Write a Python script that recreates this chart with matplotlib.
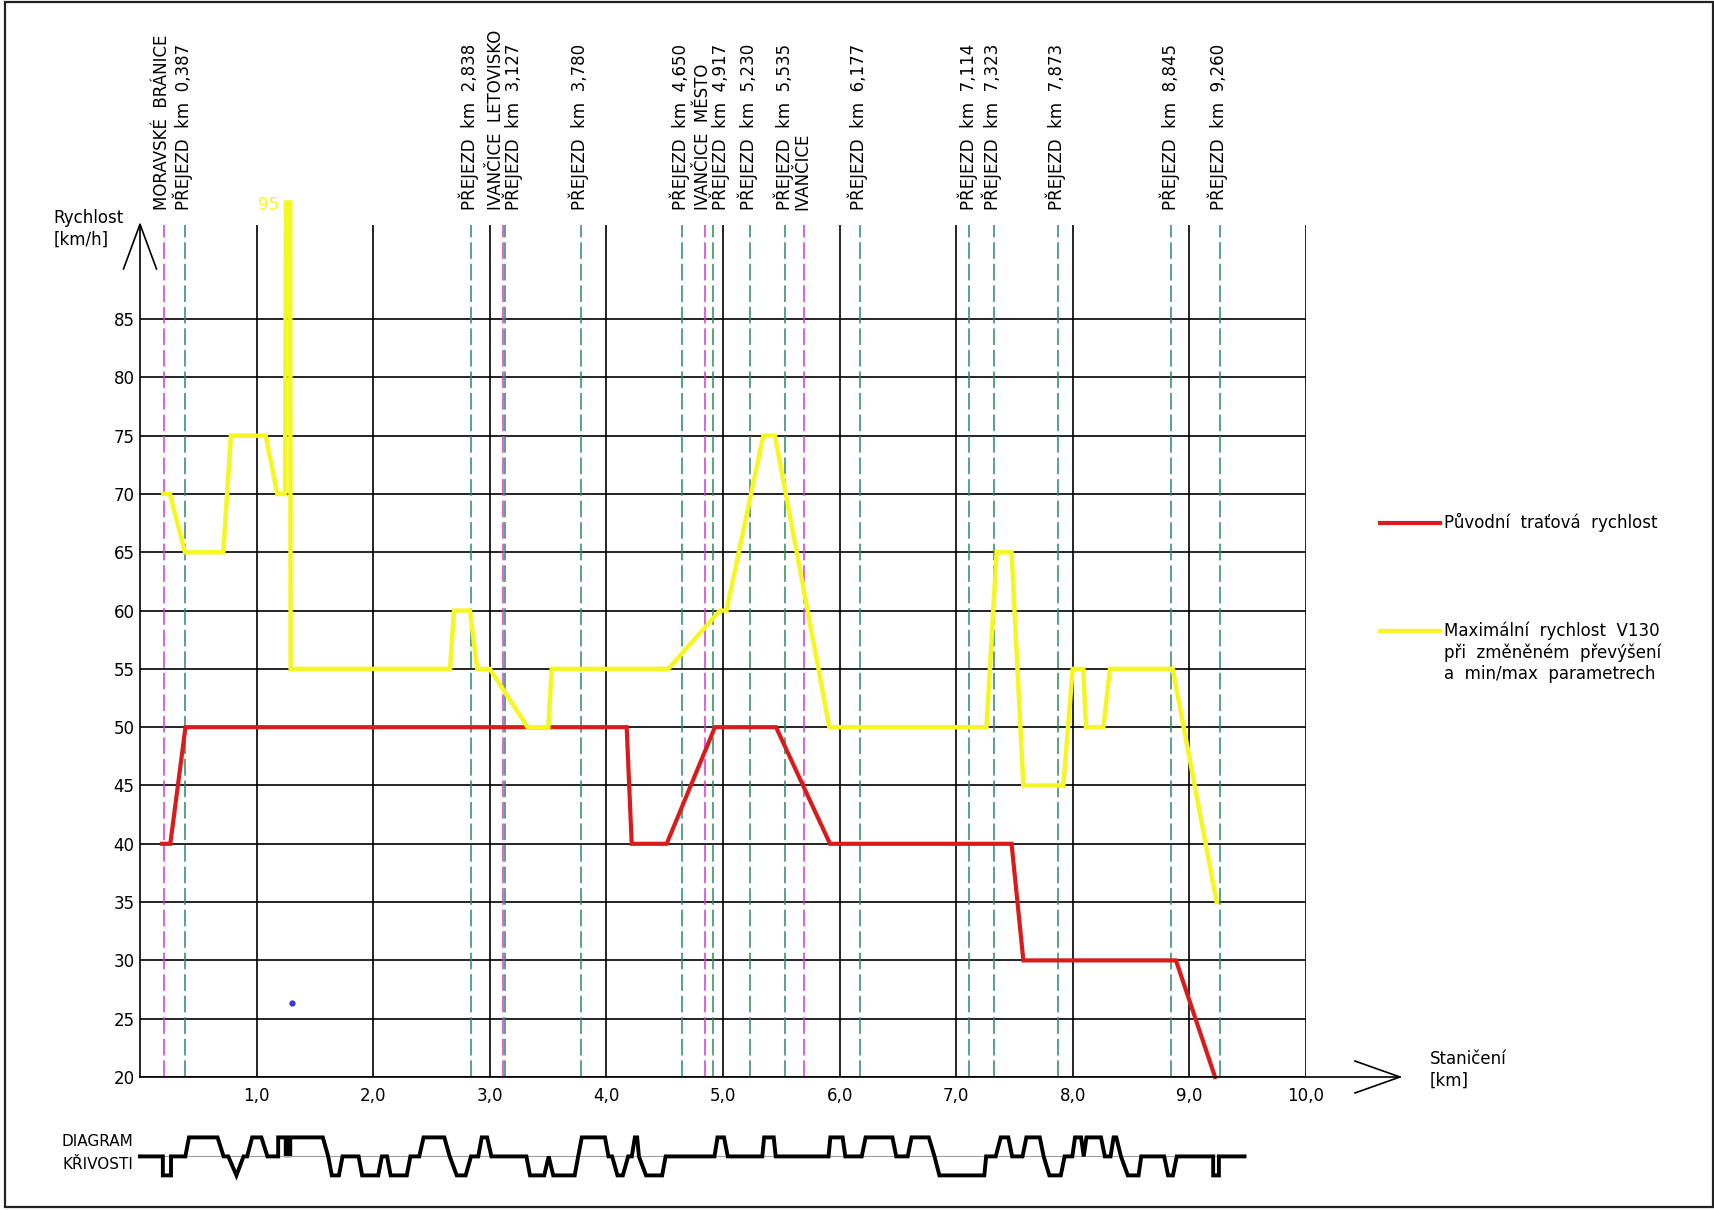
import matplotlib
matplotlib.use('Agg')
import matplotlib.pyplot as plt
from matplotlib.patches import Rectangle

plt.rcParams['font.family'] = ['DejaVu Sans']
plt.rcParams['lines.scale_dashes'] = False

# puvodni tratova rychlost (km, km/h)
orig_km = [0.19, 0.26, 0.39, 4.174, 4.217, 4.517, 4.931, 5.455, 5.918, 7.475, 7.576, 8.885, 9.22]
orig_kmh = [40, 40, 50, 50, 40, 40, 50, 50, 40, 40, 30, 30, 20]

# maximalni rychlost V130
max_km = [0.2, 0.257, 0.386, 0.714, 0.78, 1.078, 1.178, 1.244, 1.252, 1.288, 1.292,
          2.659, 2.693, 2.83, 2.893, 3.0, 3.325, 3.502, 3.531, 4.531, 4.974, 5.03,
          5.346, 5.446, 5.912, 7.26, 7.347, 7.475, 7.576, 7.919, 7.999, 8.09, 8.113,
          8.262, 8.319, 8.857, 9.234]
max_kmh = [70, 70, 65, 65, 75, 75, 70, 70, 95, 95, 55,
           55, 60, 60, 55, 55, 50, 50, 55, 55, 60, 60,
           75, 75, 50, 50, 65, 65, 45, 45, 55, 55, 50,
           50, 55, 55, 35]

crossing_km = [0.387, 2.838, 3.127, 3.780, 4.650, 4.917, 5.230, 5.535, 6.177,
               7.114, 7.323, 7.873, 8.845, 9.260]
station_km = [0.204, 3.11, 4.849, 5.697]
station_names = ["MORAVSKÉ  BRÁNICE", "IVANČICE  LETOVISKO", "IVANČICE  MĚSTO", "IVANČICE"]

legend_labels = ['Původní  traťová  rychlost',
                 ['Maximální  rychlost  V130', 'při  změněném  převýšení', 'a  min/max  parametrech']]

# diagram krivosti: 1 = oblouk vpravo, -1 = vlevo, 0 = prima
curv_km = [0.0, 0.196, 0.196, 0.266, 0.266, 0.389, 0.420, 0.665, 0.717, 0.757, 0.827,
           0.888, 0.919, 0.962, 1.041, 1.093, 1.185, 1.185, 1.231, 1.293, 1.568, 1.614,
           1.645, 1.706, 1.737, 1.875, 1.905, 2.043, 2.074, 2.119, 2.150, 2.288, 2.319,
           2.395, 2.432, 2.610, 2.656, 2.717, 2.793, 2.839, 2.901, 2.931, 2.977, 3.014,
           3.314, 3.345, 3.467, 3.505, 3.544, 3.728, 3.758, 3.789, 3.988, 4.018, 4.049,
           4.095, 4.141, 4.187, 4.218, 4.244, 4.264, 4.279, 4.340, 4.478, 4.508,
           4.927, 4.953, 5.009, 5.041, 5.337, 5.353, 5.435, 5.452, 5.905, 5.921, 6.026,
           6.049, 6.190, 6.223, 6.453, 6.486, 6.584, 6.617, 6.765, 6.814, 6.856, 7.241,
           7.257, 7.339, 7.382, 7.447, 7.480, 7.569, 7.602, 7.717, 7.750, 7.799, 7.897,
           7.930, 7.996, 8.019, 8.071, 8.094, 8.117, 8.242, 8.275, 8.324, 8.350, 8.373,
           8.413, 8.472, 8.564, 8.587, 8.784, 8.817, 8.859, 8.892, 9.204, 9.204, 9.253,
           9.253, 9.473]
curv_lvl = [0, 0, -1, -1, 0, 0, 1, 1, 0, 0, -1,
            0, 0, 1, 1, 0, 0, 1, 1, 1, 1, 0,
            -1, -1, 0, 0, -1, -1, 0, 0, -1, -1, 0,
            0, 1, 1, 0, -1, -1, 0, 0, 1, 1, 0,
            0, -1, -1, 0, -1, -1, 0, 1, 1, 0, 0,
            -1, -1, 0, 0, 1, 1, 0, -1, -1, 0,
            0, 1, 1, 0, 0, 1, 1, 0, 0, 1, 1,
            0, 0, 1, 1, 0, 0, 1, 1, 0, -1, -1,
            0, 0, 1, 1, 0, 0, 1, 1, 0, -1, -1,
            0, 0, 1, 1, 0, 1, 1, 0, 0, 1, 1,
            0, -1, -1, 0, 0, -1, -1, 0, 0, -1, -1,
            0, 0]
curv_block = [1.231, 1.293]

yticks = list(range(20, 90, 5))
xticks = list(range(1, 11))

RED = '#d81c1c'
YEL = '#f6f622'
GRN = '#2f8a60'
MAG = '#d23cd2'

fig = plt.figure(figsize=(17.15, 12.10), dpi=100)
ax = fig.add_axes([0.08163, 0.10992, 0.67988, 0.70442])
ax.set_xlim(0, 10)
ax.set_ylim(20, 93.1)
for s in ['top', 'right', 'bottom']:
    ax.spines[s].set_visible(False)
ax.spines['left'].set_linewidth(1.2)
ax.set_yticks(yticks)
ax.set_xticks(xticks)
ax.set_xticklabels(['{},0'.format(k) for k in xticks])
ax.tick_params(length=0, labelsize=12, pad=4)
ax.tick_params(axis='x', pad=7)
ax.grid(True, color='black', linewidth=1.2, zorder=1)
ax.set_axisbelow(True)

# osa x se sipkou
ax.plot([0, 10.806], [20, 20], color='black', lw=1.2, clip_on=False, zorder=5)
ax.plot([10.42, 10.806, 10.42], [21.37, 20, 18.63], color='black', lw=1.2, clip_on=False)
# sipka osy y
ax.plot([-0.1415, 0, 0.1415], [89.3, 93.14, 89.3], color='black', lw=1.2, clip_on=False)

for k in crossing_km:
    ax.plot([k, k], [20, 93.1], color=GRN, lw=1.1, dashes=(12, 3.5), zorder=2)
for k in station_km:
    ax.plot([k, k], [20, 93.1], color=MAG, lw=1.1, dashes=(12, 3.5), zorder=2)

ax.plot(orig_km, orig_kmh, color=RED, lw=3, zorder=4, clip_on=False, solid_joinstyle='miter')
ax.plot(max_km, max_kmh, color=YEL, lw=3.2, zorder=4, clip_on=False, solid_joinstyle='miter')
ax.text(1.19, 94.8, '95', color=YEL, fontsize=12, ha='right', va='center')
ax.plot([1.304], [26.35], 'o', color='#3a3ad0', ms=3.5)

# popisky nahore
px = 1 / 116.6
shift = {3.127: 10 * px, 4.917: 8 * px}
for k in crossing_km:
    lab = 'PŘEJEZD  km  ' + '{:.3f}'.format(k).replace('.', ',')
    ax.text(k + shift.get(k, 0) - 2 * px, 94.36, lab, rotation=90, ha='center', va='bottom',
            fontsize=12)
st_shift = {3.11: -5 * px}
for k, name in zip(station_km, station_names):
    ax.text(k + st_shift.get(k, 0) - 2 * px, 94.36, name, rotation=90, ha='center', va='bottom',
            fontsize=12)

ax.text(-0.741, 94.4, 'Rychlost\n[km/h]', fontsize=12, ha='left', va='top', linespacing=1.25)
ax.text(11.063, 22.3, 'Staničení\n[km]', fontsize=12, ha='left', va='top', linespacing=1.25)

# legenda
ax.plot([10.635, 11.149], [67.54, 67.54], color=RED, lw=3, clip_on=False)
ax.text(11.183, 67.54, legend_labels[0], fontsize=12, ha='left', va='center')
ax.plot([10.635, 11.149], [58.25, 58.25], color=YEL, lw=3.2, clip_on=False)
for i, line in enumerate(legend_labels[1]):
    ax.text(11.183, 58.25 - 1.85 * i, line, fontsize=12, ha='left', va='center')

# diagram krivosti
ax2 = fig.add_axes([0.08163, 0.02074, 0.67988, 0.04711])
ax2.set_xlim(0, 10)
ax2.set_ylim(-1.5, 1.5)
ax2.axis('off')
ax2.plot([0, 9.473], [0, 0], color='#a0a0a0', lw=0.8)
ax2.plot(curv_km, curv_lvl, color='black', lw=2.8, clip_on=False, solid_joinstyle='miter')
ax2.fill_between(curv_block, 0, 1, color='black')
ax2.text(-0.055, 0.8, 'DIAGRAM', fontsize=11, ha='right', va='center')
ax2.text(-0.055, -0.45, 'KŘIVOSTI', fontsize=11, ha='right', va='center')

fig.patches.append(Rectangle((0.0029, 0.0025), 0.9957, 0.9959, transform=fig.transFigure,
                             fill=False, edgecolor='#222222', lw=1.6))

fig.savefig('out.png', dpi=100)
